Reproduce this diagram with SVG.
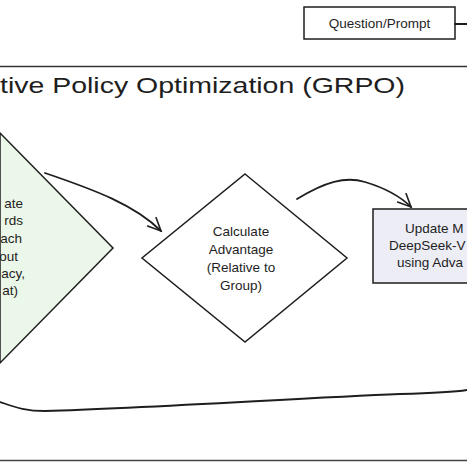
<svg xmlns="http://www.w3.org/2000/svg" width="467" height="467" viewBox="0 0 467 467">
<style>
text{font-family:"Liberation Sans","DejaVu Sans",sans-serif;fill:#1e1e1e}
.lbl{font-size:13.5px}
.ln{stroke:#1e1e1e;stroke-width:1.5}
.edge{stroke:#1e1e1e;stroke-width:1.8;fill:none;stroke-linecap:round}
</style>
<defs>
<marker id="ah" markerWidth="16" markerHeight="16" refX="14" refY="8" orient="auto" markerUnits="userSpaceOnUse">
<path d="M1,2 L14,8 L1,14" fill="none" stroke="#1e1e1e" stroke-width="1.6" stroke-linecap="round"/>
</marker>
</defs>
<rect width="467" height="467" fill="#ffffff"/>
<g id="frame">
<line x1="0" y1="66.5" x2="467" y2="66.5" stroke="#333" stroke-width="1.5"/>
<line x1="0" y1="460.5" x2="467" y2="460.5" stroke="#444" stroke-width="1.5"/>
<text x="405" y="93" text-anchor="end" font-size="22.5" textLength="405" lengthAdjust="spacingAndGlyphs">tive Policy Optimization (GRPO)</text>
</g>
<g id="question">
<rect x="304" y="7" width="151" height="32" fill="#ffffff" class="ln"/>
<text class="lbl" x="379.5" y="28" text-anchor="middle">Question/Prompt</text>
</g>
<g id="rewards">
<path d="M0,133 L113,248 L0,363 Z" fill="#ebf7e8" class="ln"/>
<text class="lbl" text-anchor="end"><tspan x="23" y="208">ate</tspan><tspan x="23" y="225">rds</tspan><tspan x="22" y="243">ach</tspan><tspan x="18" y="261">out</tspan><tspan x="25" y="278">acy,</tspan><tspan x="18" y="295">at)</tspan></text>
</g>
<g id="advantage">
<path d="M245,174 L347,258 L245,342 L142,258 Z" fill="#ffffff" class="ln"/>
<text class="lbl" text-anchor="middle"><tspan x="241" y="236">Calculate</tspan><tspan x="241" y="254">Advantage</tspan><tspan x="241" y="272">(Relative to</tspan><tspan x="241" y="290">Group)</tspan></text>
</g>
<g id="update">
<rect x="373" y="209" width="100" height="74" fill="#ededf6" class="ln"/>
<text class="lbl" text-anchor="start"><tspan x="405" y="233">Update M</tspan><tspan x="389" y="250">DeepSeek-V</tspan><tspan x="397" y="267">using Adva</tspan></text>
</g>
<g id="connectors">
<line x1="455" y1="24" x2="467" y2="24" class="edge"/>
<path d="M45,173 C95,190 135,205 161,231" class="edge" marker-end="url(#ah)"/>
<path d="M297,199 C325,182 345,176 365,182 C385,188 400,196 411,207" class="edge" marker-end="url(#ah)"/>
<path d="M0,402 C15,407 25,411 45,411 C150,408 300,398 400,394 C440,393 455,392 467,390" class="edge"/>
</g>
</svg>
